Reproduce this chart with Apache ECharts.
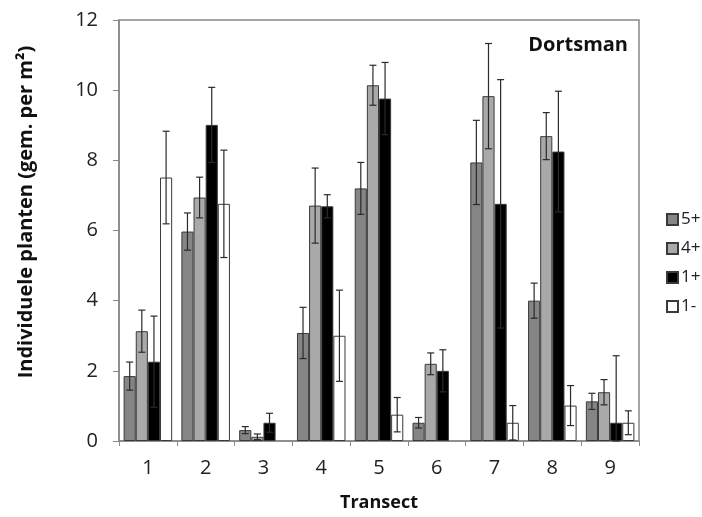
<!DOCTYPE html>
<html>
<head>
<meta charset="utf-8">
<script src="https://cdn.jsdelivr.net/npm/echarts@6/dist/echarts.min.js"></script>
<style>html,body{margin:0;padding:0;background:#fff;}#c{width:702px;height:517px;}</style>
</head>
<body>
<div id="c"></div>
<script>
var categories = ['1','2','3','4','5','6','7','8','9'];
var seriesNames = ['5+','4+','1+','1-'];
var val5p = [1.85, 5.97, 0.31, 3.08, 7.20, 0.52, 7.94, 4.00, 1.13];
var err5p = [0.40, 0.53, 0.10, 0.73, 0.74, 0.15, 1.20, 0.50, 0.23];
var val4p = [3.13, 6.94, 0.12, 6.71, 10.14, 2.20, 9.83, 8.69, 1.39];
var err4p = [0.60, 0.58, 0.08, 1.07, 0.57, 0.31, 1.50, 0.67, 0.36];
var val1p = [2.26, 9.01, 0.52, 6.69, 9.76, 2.00, 6.76, 8.25, 0.52];
var err1p = [1.30, 1.07, 0.27, 0.33, 1.03, 0.60, 3.54, 1.72, 1.91];
var val1m = [7.51, 6.76, 0, 3.00, 0.75, 0, 0.52, 1.01, 0.52];
var err1m = [1.32, 1.53, null, 1.30, 0.49, null, 0.49, 0.57, 0.34];
var yTicks = [0, 2, 4, 6, 8, 10, 12];

var vals = [val5p, val4p, val1p, val1m];
var errs = [err5p, err4p, err1p, err1m];
var fills = ['#858585', '#a9a9a9', '#000000', '#ffffff'];
var catGap = 0.16;
var FONT = '"Open Sans", "Liberation Sans", sans-serif';

var chart = echarts.init(document.getElementById('c'));
var series = [];
vals.forEach(function (v, i) {
  series.push({
    name: seriesNames[i], type: 'bar',
    data: v.map(function (y) { return y === 0 ? null : y; }),
    barGap: '0%', barCategoryGap: (catGap * 100) + '%',
    itemStyle: { color: fills[i], borderColor: '#3a3a3a', borderWidth: 1 },
    emphasis: { disabled: true }, z: 2
  });
});
vals.forEach(function (v, i) {
  var data = v.map(function (y, k) { return errs[i][k] == null ? null : [k, y, errs[i][k]]; })
              .filter(function (d) { return d; });
  series.push({
    type: 'custom', data: data, z: 5, silent: true,
    renderItem: function (params, api) {
      var k = api.value(0), y = api.value(1), e = api.value(2);
      var band = api.size([1, 0])[0];
      var bw = band * (1 - catGap) / 4;
      var cx = api.coord([k, y])[0] + (i - 1.5) * bw;
      var top = api.coord([k, y + e])[1];
      var bot = api.coord([k, Math.max(0, y - e)])[1];
      var cap = 3.5;
      var st = { stroke: '#2a2a2a', lineWidth: 1.2 };
      return { type: 'group', children: [
        { type: 'line', shape: { x1: cx, y1: top, x2: cx, y2: bot }, style: st },
        { type: 'line', shape: { x1: cx - cap, y1: top, x2: cx + cap, y2: top }, style: st },
        { type: 'line', shape: { x1: cx - cap, y1: bot, x2: cx + cap, y2: bot }, style: st }
      ]};
    }
  });
});

chart.setOption({
  animation: false,
  backgroundColor: '#ffffff',
  title: {
    text: 'Dortsman', right: 69, top: 30,
    textStyle: { fontFamily: FONT, fontSize: 20, fontWeight: 'bold', color: '#111' }
  },
  legend: {
    orient: 'vertical', left: 661, top: 206,
    icon: 'rect',
    itemWidth: 11, itemHeight: 11, itemGap: 12,
    data: seriesNames,
    textStyle: { fontFamily: FONT, fontSize: 17, color: '#222', padding: [0, 0, 0, -2] },
    selectedMode: false
  },
  grid: { left: 119, right: 63, top: 20, bottom: 74, show: true, borderColor: '#888', borderWidth: 1.5 },
  xAxis: {
    type: 'category', data: categories,
    name: 'Transect', nameLocation: 'middle', nameGap: 53,
    nameTextStyle: { fontFamily: FONT, fontSize: 18, fontWeight: 'bold', color: '#111' },
    axisLine: { lineStyle: { color: '#888', width: 1.5 } },
    axisTick: { show: true, length: 5, lineStyle: { color: '#888' } },
    axisLabel: { fontFamily: FONT, fontSize: 20, color: '#222', margin: 17 }
  },
  yAxis: {
    type: 'value', min: 0, max: 12, interval: 2,
    axisLine: { show: true, lineStyle: { color: '#888', width: 1.5 } },
    axisTick: { show: true, length: 6, lineStyle: { color: '#888' } },
    splitLine: { show: false },
    axisLabel: { fontFamily: FONT, fontSize: 20, color: '#222', margin: 21,
      formatter: function (v) { return yTicks.indexOf(v) >= 0 ? String(v) : ''; } }
  },
  graphic: [{
    type: 'text', x: 26, y: 212, rotation: Math.PI / 2,
    style: { text: 'Individuele planten (gem. per m²)', fontFamily: FONT, fontSize: 20, fontWeight: 'bold',
      fill: '#111', align: 'center', verticalAlign: 'middle' }
  }],
  series: series
});
</script>
</body>
</html>
